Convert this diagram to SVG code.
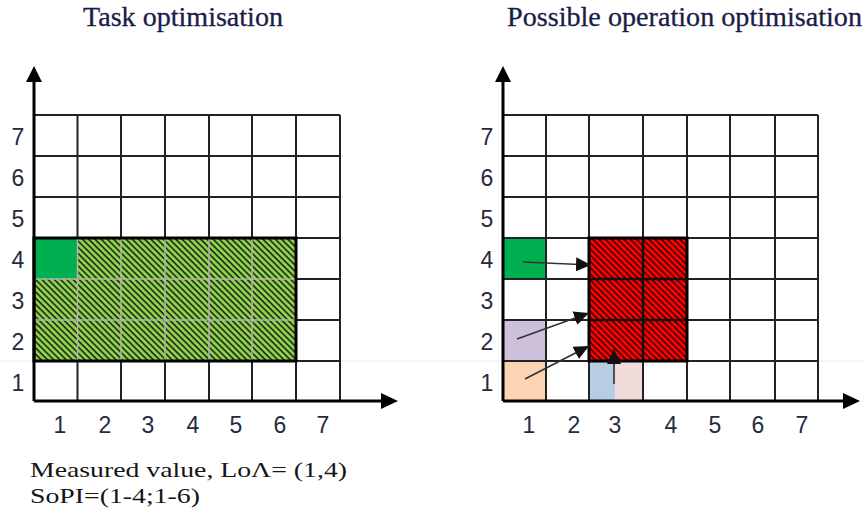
<svg xmlns="http://www.w3.org/2000/svg" width="863" height="516" viewBox="0 0 863 516">
<style>
.title{font-family:"Liberation Serif",serif;font-size:27px;fill:#1a1d48;stroke:#1a1d48;stroke-width:0.3}
.note{font-family:"Liberation Serif",serif;font-size:22px;fill:#151515}
.lbl{font-family:"Liberation Sans",Arial,sans-serif;font-size:23px;fill:#262a40;text-anchor:middle}
.grid{stroke:#222;stroke-width:2;fill:none}
.axis{stroke:#000;stroke-width:3;fill:none}
.inner{stroke:#b4b4b4;stroke-width:1.5;fill:none}
.innerk{stroke:#111;stroke-width:2.5;fill:none}
.border{stroke:#000;stroke-width:3;fill:none}
.conn{stroke:#333;stroke-width:1.6;fill:none;marker-end:url(#ah)}
</style>
<defs>
<pattern id="hg" patternUnits="userSpaceOnUse" width="4.4" height="4.4" patternTransform="rotate(45)">
<rect width="4.4" height="4.4" fill="#92d050"/>
<rect width="4.4" height="1.6" fill="#1a2a10"/>
</pattern>
<pattern id="hr" patternUnits="userSpaceOnUse" width="4.4" height="4.4" patternTransform="rotate(45)">
<rect width="4.4" height="4.4" fill="#ff0000"/>
<rect width="4.4" height="1.5" fill="#300000"/>
</pattern>
<marker id="ah" markerUnits="userSpaceOnUse" markerWidth="17" markerHeight="16" refX="15" refY="7" orient="auto">
<path d="M0,0 L15,7 L0,14 Z" fill="#111"/>
</marker>
</defs>
<rect width="863" height="516" fill="#fff"/>
<line x1="0" y1="361" x2="863" y2="361" stroke="#ececec" stroke-width="1"/>

<g id="title-left"><text class="title" x="83" y="26" textLength="200" lengthAdjust="spacingAndGlyphs">Task optimisation</text></g>
<g id="title-right"><text class="title" x="507" y="26" textLength="355" lengthAdjust="spacingAndGlyphs">Possible operation optimisation</text></g>

<g id="left-chart">
<g id="left-grid">
<rect x="34" y="115" width="306" height="286" fill="#fff"/>
<path class="grid" d="M34,115H340M34,156H340M34,197H340M34,238H340M34,279H340M34,320H340M34,361H340M77.5,115V401M121,115V401M165,115V401M209,115V401M252,115V401M296,115V401M340,115V401"/>
</g>
<g id="left-region">
<rect x="34" y="238" width="262" height="123" fill="url(#hg)"/>
<rect x="34" y="238" width="43.5" height="41" fill="#00b050"/>
<path class="inner" d="M77.5,238V361M121,238V361M165,238V361M209,238V361M252,238V361M34,279H296M34,320H296"/>
<rect class="border" x="34" y="238" width="262" height="123"/>
</g>
<g id="left-axes">
<path class="axis" d="M34,401V80M34,401H383"/>
<path d="M26,82L34,66L42,82Z" fill="#000"/>
<path d="M381,393L398,401L381,409Z" fill="#000"/>
</g>
<g id="left-ylabels">
<text class="lbl" x="18" y="145">7</text><text class="lbl" x="18" y="186">6</text><text class="lbl" x="18" y="227">5</text><text class="lbl" x="18" y="268">4</text><text class="lbl" x="18" y="309">3</text><text class="lbl" x="18" y="350">2</text><text class="lbl" x="18" y="391">1</text>
</g>
<g id="left-xlabels">
<text class="lbl" x="60" y="433">1</text><text class="lbl" x="105" y="433">2</text><text class="lbl" x="148" y="433">3</text><text class="lbl" x="193" y="433">4</text><text class="lbl" x="236" y="433">5</text><text class="lbl" x="280" y="433">6</text><text class="lbl" x="323" y="433">7</text>
</g>
</g>

<g id="right-chart">
<g id="right-cells">
<rect x="503" y="115" width="315" height="286" fill="#fff"/>
<rect x="503" y="238" width="43" height="41" fill="#00b050"/>
<rect x="503" y="320" width="43" height="41" fill="#ccc0da"/>
<rect x="503" y="361" width="43" height="40" fill="#fbd4b4"/>
<rect x="589" y="361" width="26" height="40" fill="#b8cce4"/>
<rect x="615" y="361" width="28" height="40" fill="#f2dcdb"/>
</g>
<g id="right-grid">
<path class="grid" d="M503,115H818M503,156H818M503,197H818M503,238H818M503,279H818M503,320H818M503,361H818M546,115V401M589,115V401M643,115V401M687,115V401M730,115V401M775,115V401M818,115V401"/>
</g>
<g id="right-region">
<rect x="589" y="238" width="98" height="123" fill="url(#hr)"/>
<path class="innerk" d="M643,238V361M589,279H687M589,320H687"/>
<rect class="border" x="589" y="238" width="98" height="123"/>
</g>
<g id="right-axes">
<path class="axis" d="M503,401V80M503,401H845"/>
<path d="M495,82L503,66L511,82Z" fill="#000"/>
<path d="M843,393L860,401L843,409Z" fill="#000"/>
</g>
<g id="right-ylabels">
<text class="lbl" x="487" y="145">7</text><text class="lbl" x="487" y="186">6</text><text class="lbl" x="487" y="227">5</text><text class="lbl" x="487" y="268">4</text><text class="lbl" x="487" y="309">3</text><text class="lbl" x="487" y="350">2</text><text class="lbl" x="487" y="391">1</text>
</g>
<g id="right-xlabels">
<text class="lbl" x="529" y="433">1</text><text class="lbl" x="574" y="433">2</text><text class="lbl" x="615" y="433">3</text><text class="lbl" x="671" y="433">4</text><text class="lbl" x="715" y="433">5</text><text class="lbl" x="758" y="433">6</text><text class="lbl" x="802" y="433">7</text>
</g>
</g>

<g id="connectors">
<line class="conn" x1="523" y1="262" x2="591" y2="265"/>
<line class="conn" x1="517" y1="339" x2="589" y2="313"/>
<line class="conn" x1="525" y1="379" x2="589" y2="346"/>
<line class="conn" x1="614" y1="384" x2="614" y2="349"/>
</g>

<g id="notes">
<text class="note" x="30" y="477" textLength="317" lengthAdjust="spacingAndGlyphs">Measured value, LoΛ= (1,4)</text>
<text class="note" x="30" y="503" textLength="170" lengthAdjust="spacingAndGlyphs">SoPI=(1-4;1-6)</text>
</g>
</svg>
